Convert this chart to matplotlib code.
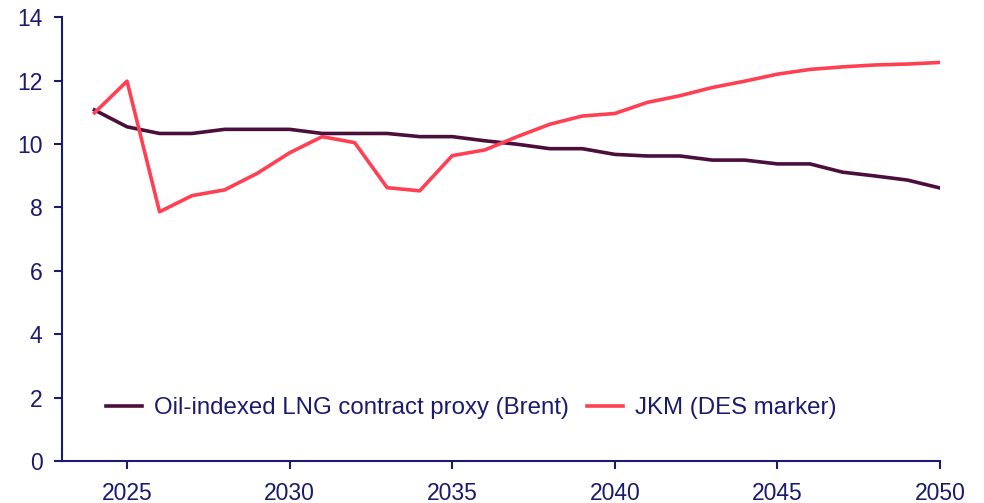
import matplotlib.pyplot as plt

years = list(range(2024, 2051))
brent = [11.07, 10.54, 10.33, 10.33, 10.46, 10.46, 10.46, 10.33, 10.33, 10.33,
         10.23, 10.23, 10.10, 9.99, 9.85, 9.85, 9.67, 9.62, 9.62, 9.49,
         9.49, 9.37, 9.37, 9.11, 8.99, 8.86, 8.61]
jkm = [10.98, 11.98, 7.86, 8.37, 8.55, 9.07, 9.72, 10.23, 10.04, 8.62,
       8.52, 9.63, 9.81, 10.23, 10.62, 10.88, 10.96, 11.31, 11.52, 11.78,
       11.98, 12.20, 12.35, 12.43, 12.49, 12.52, 12.57]
xticks = [2025, 2030, 2035, 2040, 2045, 2050]
yticks = [0, 2, 4, 6, 8, 10, 12, 14]

navy = "#1a1a6e"
plt.rcParams["font.family"] = ["Liberation Sans", "DejaVu Sans"]

fig = plt.figure(figsize=(9.84, 5.03), dpi=100)
ax = fig.add_axes([0.063, 0.0835, 0.8923, 0.8825])

ax.plot(years, brent, color="#4b0f3e", lw=2.6, label="Oil-indexed LNG contract proxy (Brent)")
ax.plot(years, jkm, color="#ff4052", lw=2.6, label="JKM (DES marker)")

ax.set_xlim(2023, 2050)
ax.set_ylim(0, 14)
ax.set_xticks(xticks)
ax.set_yticks(yticks)

for side in ("top", "right"):
    ax.spines[side].set_visible(False)
for side in ("left", "bottom"):
    ax.spines[side].set_color(navy)
    ax.spines[side].set_linewidth(1.5)
ax.tick_params(colors=navy, labelcolor=navy, labelsize=16.5, length=6, width=1.5, direction="out")
ax.tick_params(axis="x", pad=9)
ax.tick_params(axis="y", pad=8)

leg = ax.legend(loc="lower left", bbox_to_anchor=(0.025, 0.045), ncol=2, frameon=False,
                fontsize=17.3, handlelength=1.5, columnspacing=0.75, handletextpad=0.5)
for t in leg.get_texts():
    t.set_color(navy)

fig.savefig("out.png", dpi=100)
